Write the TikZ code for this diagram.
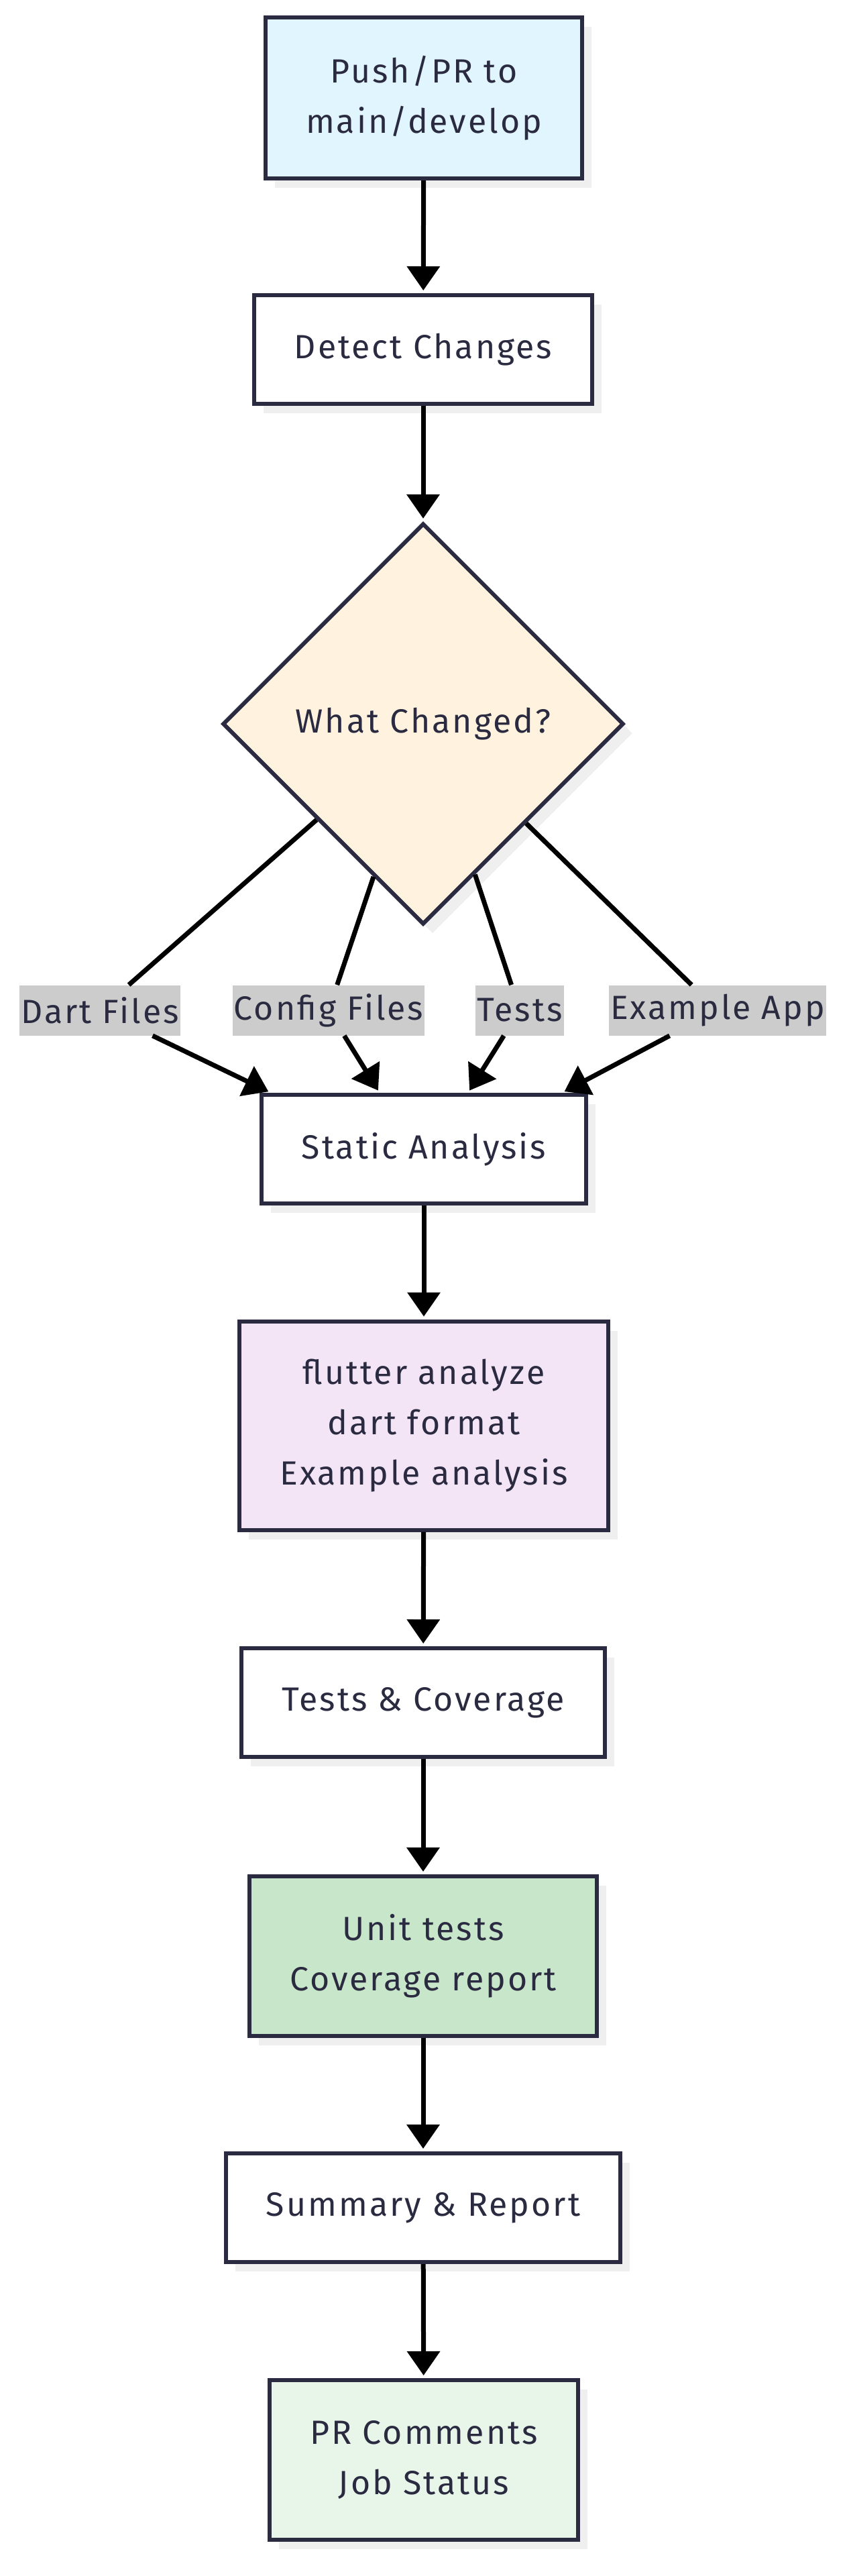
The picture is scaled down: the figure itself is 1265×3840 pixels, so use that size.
\documentclass[tikz,border=0pt]{standalone}
\usepackage{fontspec}
\setmainfont{Fira Sans}[LetterSpace=6]
\usepackage{tikz}
\usetikzlibrary{arrows.meta,shapes.geometric,shadows}
\definecolor{ink}{HTML}{2A2A40}
\definecolor{pushblue}{HTML}{E1F5FE}
\definecolor{askorange}{HTML}{FFF3E0}
\definecolor{toollilac}{HTML}{F3E5F5}
\definecolor{testgreen}{HTML}{C8E6C9}
\definecolor{donegreen}{HTML}{E8F5E9}
\definecolor{shade}{HTML}{EFEFEF}

\tikzset{
    box/.style={draw=ink, line width=3pt, fill=white, text=ink, align=center,
        inner xsep=30pt, minimum height=81pt,
        font=\fontsize{25}{37.5}\selectfont,
        drop shadow={shadow xshift=7pt, shadow yshift=-7pt, fill=shade, opacity=1}},
    lbl/.style={fill=black!20, text=ink, inner xsep=1pt, inner ysep=0pt,
        minimum height=37.5pt, font=\fontsize{25}{37.5}\selectfont},
    link/.style={draw=black, line width=3.5pt},
    arr/.style={link, -{Triangle[width=24pt,length=18pt]}, shorten >=2pt},
}

\begin{document}
\begin{tikzpicture}[x=0.5pt, y=-0.5pt]
        \useasboundingbox (0,0) rectangle (1265,3840);
        % Add nodes
        \node[box, fill=pushblue, minimum height=120pt] (push) at (632,146) {Push/PR to\\main/develop};
        \node[box] (detect) at (631,521) {Detect Changes};
        \node[box, diamond, aspect=1, fill=askorange, minimum width=299pt,
              minimum height=299pt, inner sep=0pt] (what) at (631,1079) {What Changed?};
        \node[box] (static) at (632,1713) {Static Analysis};
        \node[box, fill=toollilac, minimum height=155.5pt] (tools) at (632,2125) {flutter analyze\\dart format\\Example analysis};
        \node[box] (tests) at (631,2538) {Tests \& Coverage};
        \node[box, fill=testgreen, minimum height=119pt] (unit) at (631,2916) {Unit tests\\Coverage report};
        \node[box] (summary) at (631,3291) {Summary \& Report};
        \node[box, fill=donegreen, minimum height=119pt] (status) at (632,3667) {PR Comments\\Job Status};
        % Add labels
        \node[lbl] (dart) at (149,1506) {Dart Files};
        \node[lbl] (config) at (490,1506) {Config Files};
        \node[lbl] (testfiles) at (775,1506) {Tests};
        \node[lbl] (example) at (1070,1506) {Example App};
        % Draw arrows
        \draw[arr] (push) -- (detect);
        \draw[arr] (detect) -- (what);
        \draw[link] (what.222) -- (dart);
        \draw[link] (what.252) -- (config);
        \draw[link] (what.289) -- (testfiles);
        \draw[link] (what.316) -- (example);
        \draw[arr] (dart) -- ([xshift=-114pt]static.north);
        \draw[arr] (config) -- ([xshift=-33pt]static.north);
        \draw[arr] (testfiles) -- ([xshift=33pt]static.north);
        \draw[arr] (example) -- ([xshift=103pt]static.north);
        \draw[arr] (static) -- (tools);
        \draw[arr] (tools) -- (tests);
        \draw[arr] (tests) -- (unit);
        \draw[arr] (unit) -- (summary);
        \draw[arr] (summary) -- (status);
    \end{tikzpicture}
\end{document}
